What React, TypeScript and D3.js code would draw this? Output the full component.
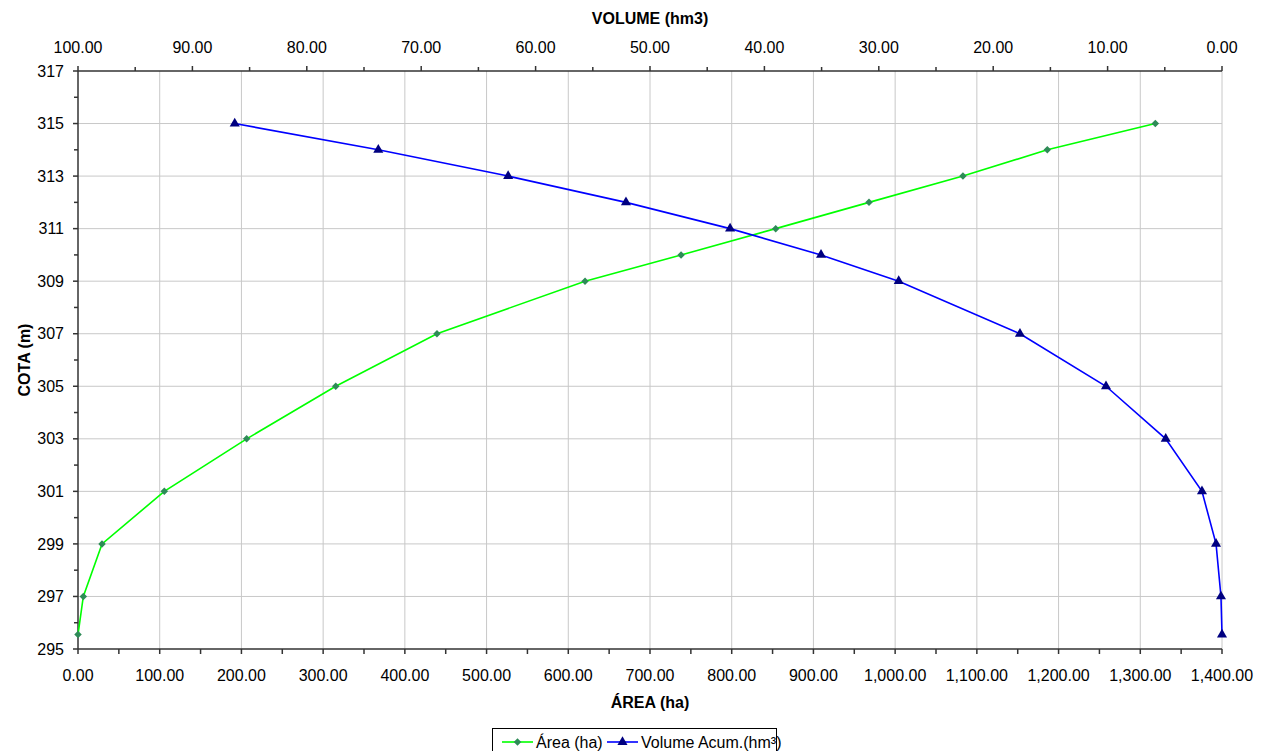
import * as d3 from "d3";
import React from "react";

// elevation (m) of each survey level
const cota = [295.55, 297, 299, 301, 303, 305, 307, 309, 310, 311, 312, 313, 314, 315];
// flooded area (ha) at each level
const area = [0, 6.5, 29.4, 105.6, 206.4, 315.4, 439.3, 620.5, 738, 853.8, 968, 1083, 1186.2, 1318.4];
// accumulated volume (hm3) at each level
const volume = [0, 0.09, 0.52, 1.75, 4.92, 10.14, 17.66, 28.26, 35.05, 43.0, 52.1, 62.4, 73.75, 86.3];

const areaTicks = d3.range(0, 1401, 100);
const areaMinor = d3.range(50, 1400, 100);
const volTicks = d3.range(0, 101, 10);
const volMinor = d3.range(5, 100, 10);
const cotaTicks = d3.range(295, 318, 2);
const cotaMinor = d3.range(296, 317, 2);

const W = 1268, H = 751;
const L = 78, R = 1222, T = 71, B = 649;
const FONT = "'Liberation Sans', Arial, sans-serif";
const AXIS = "#333";

const x = d3.scaleLinear().domain([0, 1400]).range([L, R]);
const xv = d3.scaleLinear().domain([100, 0]).range([L, R]);
const y = d3.scaleLinear().domain([295, 317]).range([B, T]);

const fmtArea = d3.format(",.2f");
const fmtVol = d3.format(".2f");

// excel-style diamond: a square turned 45deg
const diamond = d3.symbol(d3.symbolSquare, 28)();
const triangle = d3.symbol(d3.symbolTriangle, 44)();

const areaLine = d3.line<number>()
  .x((_v, i) => x(area[i]))
  .y((v) => y(v));
const volLine = d3.line<number>()
  .x((_v, i) => xv(volume[i]))
  .y((v) => y(v));

export default function App() {
  return (
    <svg width={W} height={H} style={{ position: "absolute", left: 0, top: 0, display: "block" }}
      fontFamily={FONT} fontSize={16}>
      <rect width={W} height={H} fill="#fff" />

      {/* grid */}
      {areaTicks.filter((t) => t > 0).map((t) => (
        <line key={"gx" + t} x1={x(t)} x2={x(t)} y1={T} y2={B} stroke="#c8c8c8" strokeWidth={1} />
      ))}
      {cotaTicks.filter((t) => t > 295 && t < 317).map((t) => (
        <line key={"gy" + t} x1={L} x2={R} y1={y(t)} y2={y(t)} stroke="#c8c8c8" strokeWidth={1} />
      ))}

      {/* left axis */}
      <line x1={L} x2={L} y1={T} y2={B} stroke={AXIS} strokeWidth={1.5} />
      {cotaTicks.map((t) => (
        <g key={"yt" + t}>
          <line x1={L - 5} x2={L} y1={y(t)} y2={y(t)} stroke={AXIS} strokeWidth={1.5} />
          <text x={L - 14} y={y(t)} dy="0.35em" textAnchor="end">{t}</text>
        </g>
      ))}
      {cotaMinor.map((t) => (
        <line key={"ym" + t} x1={L - 4} x2={L} y1={y(t)} y2={y(t)} stroke={AXIS} strokeWidth={1.5} />
      ))}
      <text transform={`translate(24,${(T + B) / 2}) rotate(-90)`} textAnchor="middle" dy="0.35em"
        fontWeight="bold">COTA (m)</text>

      {/* bottom axis */}
      <line x1={L} x2={R} y1={B} y2={B} stroke={AXIS} strokeWidth={1.5} />
      {areaTicks.map((t) => (
        <g key={"xt" + t}>
          <line x1={x(t)} x2={x(t)} y1={B} y2={B + 5} stroke={AXIS} strokeWidth={1.5} />
          <text x={x(t)} y={B + 32} textAnchor="middle">{fmtArea(t)}</text>
        </g>
      ))}
      {areaMinor.map((t) => (
        <line key={"xm" + t} x1={x(t)} x2={x(t)} y1={B} y2={B + 5} stroke={AXIS} strokeWidth={1.5} />
      ))}
      <text x={(L + R) / 2} y={708} textAnchor="middle" fontWeight="bold">ÁREA (ha)</text>

      {/* top axis */}
      <line x1={L} x2={R} y1={T} y2={T} stroke={AXIS} strokeWidth={1.5} />
      {volTicks.map((t) => (
        <g key={"vt" + t}>
          <line x1={xv(t)} x2={xv(t)} y1={T - 5} y2={T} stroke={AXIS} strokeWidth={1.5} />
          <text x={xv(t)} y={T - 18} textAnchor="middle">{fmtVol(t)}</text>
        </g>
      ))}
      {volMinor.map((t) => (
        <line key={"vm" + t} x1={xv(t)} x2={xv(t)} y1={T - 4} y2={T} stroke={AXIS} strokeWidth={1.5} />
      ))}
      <text x={(L + R) / 2} y={24} textAnchor="middle" fontWeight="bold">VOLUME (hm3)</text>

      {/* series */}
      <path d={areaLine(cota) || ""} fill="none" stroke="#00ff00" strokeWidth={1.6} />
      <path d={volLine(cota) || ""} fill="none" stroke="#0000ff" strokeWidth={1.6} />
      {cota.map((c, i) => (
        <path key={"ad" + i} d={diamond || ""}
          transform={`translate(${x(area[i])},${y(c)}) rotate(45)`} fill="#2e8b57" />
      ))}
      {cota.map((c, i) => (
        <path key={"vd" + i} d={triangle || ""} transform={`translate(${xv(volume[i])},${y(c)})`} fill="#000080" />
      ))}

      {/* legend */}
      <g transform="translate(492,728)">
        <rect x={0.5} y={0.5} width={284} height={30} fill="#fff" stroke="#000" strokeWidth={1} />
        <line x1={10} x2={41} y1={14} y2={14} stroke="#00ff00" strokeWidth={1.6} />
        <path d={diamond || ""} transform="translate(25.5,14) rotate(45)" fill="#2e8b57" />
        <text x={44} y={14} dy="0.35em">Área (ha)</text>
        <line x1={115} x2={146} y1={14} y2={14} stroke="#0000ff" strokeWidth={1.6} />
        <path d={triangle || ""} transform="translate(130.5,14)" fill="#000080" />
        <text x={149} y={14} dy="0.35em">Volume Acum.(hm³)</text>
      </g>
    </svg>
  );
}
